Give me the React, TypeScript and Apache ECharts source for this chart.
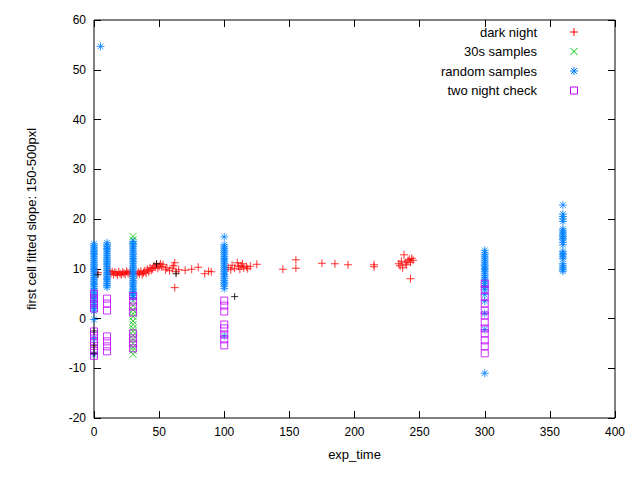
import { useEffect, useRef } from "react";
import * as echarts from "echarts";

// dark night (red +)
const darkNight: number[][] = [
  [3, 9.2], [12, 9.6], [13, 9.0], [14, 9.4], [15, 8.8], [16, 9.3], [17, 9.1], [18, 8.7], [19, 9.4], [20, 9.0],
  [21, 8.8], [22, 9.3], [23, 9.1], [24, 8.9], [25, 9.5], [26, 9.2], [27, 9.0], [28, 9.4], [33, 8.9], [34, 9.3],
  [35, 9.0], [36, 9.5], [37, 8.8], [38, 9.2], [39, 9.6], [40, 9.1], [41, 9.9], [42, 9.4], [43, 10.2], [44, 9.7],
  [45, 10.0], [46, 10.6], [47, 10.3], [48, 10.9], [49, 10.1], [50, 10.5], [51, 11.0], [52, 10.4], [53, 10.8],
  [55, 9.8], [56, 10.2], [58, 9.6], [60, 10.1], [61, 10.6], [62, 11.2], [63, 9.4], [62, 6.2], [65, 9.8], [70, 9.7],
  [75, 9.9], [80, 10.3], [85, 9.0], [88, 9.5], [90, 9.4], [103, 10.2], [105, 9.8], [106, 10.7], [108, 10.1],
  [110, 11.2], [111, 10.5], [112, 9.9], [113, 10.6], [114, 11.0], [115, 10.2], [117, 10.4], [118, 10.0], [120, 10.5],
  [125, 10.9], [145, 9.9], [155, 10.1], [155, 11.8], [175, 11.1], [185, 11.0], [195, 10.8], [215, 10.4], [215, 10.8],
  [234, 11.0], [235, 10.6], [236, 11.5], [237, 10.2], [238, 12.8], [239, 11.2], [240, 10.8], [241, 11.6], [242, 11.9],
  [243, 8.0], [243, 11.3], [244, 12.1], [245, 11.7]
];

// 30s samples (green x)
const thirtySamples: number[][] = [
  [30, 16.5], [30, 15.8], [30, 4.5], [30, 3.6], [30, 2.6], [30, 1.7], [30, 1.0], [30, 0.4], [30, -0.5],
  [30, -1.2], [30, -2.0], [30, -2.6], [30, -3.4], [30, -4.2], [30, -5.0], [30, -5.8], [30, -6.4], [30, -7.2]
];

// random samples (blue *)
const col0 = [15, 14.6, 14.2, 13.8, 13.5, 13.1, 12.8, 12.4, 12.0, 11.6, 11.2, 10.8, 10.5, 10.1, 9.8, 9.4, 9.0, 8.6, 8.2, 7.8, 7.5, 7.1, 6.8, 6.4, 6.0, 5.6, 5.2, 4.8, 4.5, 4.0, 3.6, 3.2, 2.8, 2.4, 2.0, 1.5, -0.2, -4.0, -7.2];
const col10 = [15.2, 14.8, 14.5, 14.1, 13.8, 13.4, 13.0, 12.6, 12.2, 11.8, 11.5, 11.1, 10.8, 10.4, 10.0, 9.6, 9.2, 8.8, 8.5, 8.1, 7.8, 7.4, 7.0, 6.6, 6.3];
const col30 = [15.5, 15.1, 14.8, 14.4, 14.0, 13.6, 13.2, 12.9, 12.5, 12.1, 11.8, 11.4, 11.0, 10.6, 10.2, 9.9, 9.5, 9.1, 8.8, 8.4, 8.0, 7.6, 7.2, 6.9, 6.5, 6.1, 5.8, 5.4, 5.0, 4.6, 4.2];
const col100 = [16.4, 14.8, 14.4, 14.0, 13.6, 13.3, 12.9, 12.5, 12.1, 11.8, 11.4, 11.0, 10.6, 10.2, 9.9, 9.5, 9.1, 8.8, 8.4, 8.0, 7.6, 7.2, 6.9, 6.5, 6.0, -3.5];
const col300 = [13.7, 13.2, 12.8, 12.4, 12.0, 11.6, 11.2, 10.8, 10.5, 10.1, 9.8, 9.4, 9.0, 8.6, 8.2, 7.8, 7.5, 7.0, 6.6, 6.2, 5.8, 4.8, 3.5, 1.0, -2.2, -11.0];
const col360 = [22.8, 21.0, 20.5, 20.0, 19.5, 18.0, 17.6, 17.2, 16.8, 16.5, 16.1, 15.8, 15.3, 14.8, 13.5, 13.1, 12.8, 12.4, 12.0, 11.0, 10.6, 10.2, 9.8, 9.5];
const randomSamples: number[][] = [
  ...col0.map((y) => [0, y]),
  [5, 54.7],
  ...col10.map((y) => [10, y]),
  ...col30.map((y) => [30, y]),
  ...col100.map((y) => [100, y]),
  ...col300.map((y) => [300, y]),
  ...col360.map((y) => [360, y])
];

// two night check (purple squares)
const twoNight: number[][] = [
  ...[5.0, 4.0, 3.0, 2.0, -2.6, -3.5, -4.5, -5.5, -6.5, -7.5].map((y) => [0, y]),
  ...[4.0, 3.0, 1.6, -3.6, -4.6, -5.6, -6.6].map((y) => [10, y]),
  ...[4.5, 3.4, 2.4, 1.2, -3.0, -4.0, -5.0, -6.0].map((y) => [30, y]),
  ...[3.6, 2.6, 1.4, -1.2, -2.0, -3.2, -4.2, -5.4].map((y) => [100, y]),
  ...[7.0, 5.8, 4.4, 3.0, 1.6, 0.6, -0.8, -2.0, -3.0, -4.4, -5.6, -7.0].map((y) => [300, y])
];

// unlabelled black +
const extra: number[][] = [[3, 8.8], [0, -2.5], [0, -5.5], [0, -7.0], [48, 11.0], [63, 9.0], [108, 4.4]];

const legendNames = ["dark night", "30s samples", "random samples", "two night check"];
const legendColors = ["#ff0000", "#00c000", "#0080ff", "#c000ff"];

const plusPath = "path://M0,5L10,5M5,0L5,10";
const crossPath = "path://M0,0L10,10M10,0L0,10";
const starPath = "path://M0,5L10,5M5,0L5,10M1.5,1.5L8.5,8.5M8.5,1.5L1.5,8.5";

function stroked(color: string) {
  return { color: "none", borderColor: color, borderWidth: 1 };
}

function legendIcon(i: number, cx: number, cy: number) {
  const s = { stroke: legendColors[i], lineWidth: 1 };
  const h = 4;
  if (i === 0) return [
    { type: "line", shape: { x1: cx - h, y1: cy, x2: cx + h, y2: cy }, style: s },
    { type: "line", shape: { x1: cx, y1: cy - h, x2: cx, y2: cy + h }, style: s }
  ];
  if (i === 1) return [
    { type: "line", shape: { x1: cx - 3.5, y1: cy - 3.5, x2: cx + 3.5, y2: cy + 3.5 }, style: s },
    { type: "line", shape: { x1: cx + 3.5, y1: cy - 3.5, x2: cx - 3.5, y2: cy + 3.5 }, style: s }
  ];
  if (i === 2) return [
    { type: "line", shape: { x1: cx - h, y1: cy, x2: cx + h, y2: cy }, style: s },
    { type: "line", shape: { x1: cx, y1: cy - h, x2: cx, y2: cy + h }, style: s },
    { type: "line", shape: { x1: cx - 3, y1: cy - 3, x2: cx + 3, y2: cy + 3 }, style: s },
    { type: "line", shape: { x1: cx + 3, y1: cy - 3, x2: cx - 3, y2: cy + 3 }, style: s }
  ];
  return [{ type: "rect", shape: { x: cx - 3.5, y: cy - 3.5, width: 7, height: 7 }, style: { ...s, fill: "none" } }];
}

export default function App() {
  const ref = useRef<HTMLDivElement | null>(null);

  useEffect(() => {
    if (!ref.current) return;
    const chart = echarts.init(ref.current, null, { renderer: "svg" });
    const axisCommon = {
      axisLine: { show: false, onZero: false },
      splitLine: { show: false },
      axisTick: { inside: true, length: 7, lineStyle: { color: "#000" } },
      axisLabel: { color: "#000", fontSize: 12, fontFamily: "Liberation Sans" }
    };
    const graphic: any[] = [];
    legendNames.forEach((name, i) => {
      const cy = 32 + i * 19.5;
      graphic.push({
        type: "text", x: 537, y: cy,
        style: { text: name, fill: "#000", font: "13px Liberation Sans", textAlign: "right", textVerticalAlign: "middle" }
      });
      graphic.push(...legendIcon(i, 574, cy));
    });
    chart.setOption({
      animation: false,
      backgroundColor: "#fff",
      textStyle: { fontFamily: "Liberation Sans" },
      grid: { left: 94, right: 25, top: 20, bottom: 62, show: true, borderColor: "#000", borderWidth: 1 },
      graphic,
      xAxis: [
        {
          ...axisCommon, type: "value", min: 0, max: 400, interval: 50,
          name: "exp_time", nameLocation: "middle", nameGap: 30,
          nameTextStyle: { fontSize: 13, color: "#000" }
        },
        { ...axisCommon, type: "value", min: 0, max: 400, interval: 50, position: "top", axisLabel: { show: false } }
      ],
      yAxis: [
        {
          ...axisCommon, type: "value", min: -20, max: 60, interval: 10,
          name: "first cell fitted slope: 150-500pxl", nameLocation: "middle", nameGap: 56,
          nameTextStyle: { fontSize: 13, color: "#000" }
        },
        { ...axisCommon, type: "value", min: -20, max: 60, interval: 10, position: "right", axisLabel: { show: false } }
      ],
      series: [
        { name: "dark night", type: "scatter", data: darkNight, symbol: plusPath, symbolSize: 8, itemStyle: stroked("#ff0000") },
        { name: "30s samples", type: "scatter", data: thirtySamples, symbol: crossPath, symbolSize: 7, itemStyle: stroked("#00c000") },
        { name: "random samples", type: "scatter", data: randomSamples, symbol: starPath, symbolSize: 8, itemStyle: stroked("#0080ff") },
        { name: "two night check", type: "scatter", data: twoNight, symbol: "rect", symbolSize: 7, itemStyle: stroked("#c000ff") },
        { name: "other", type: "scatter", data: extra, symbol: plusPath, symbolSize: 7, itemStyle: stroked("#000") }
      ]
    });
    return () => chart.dispose();
  }, []);

  return <div ref={ref} style={{ width: 640, height: 480, margin: -8 }} />;
}
